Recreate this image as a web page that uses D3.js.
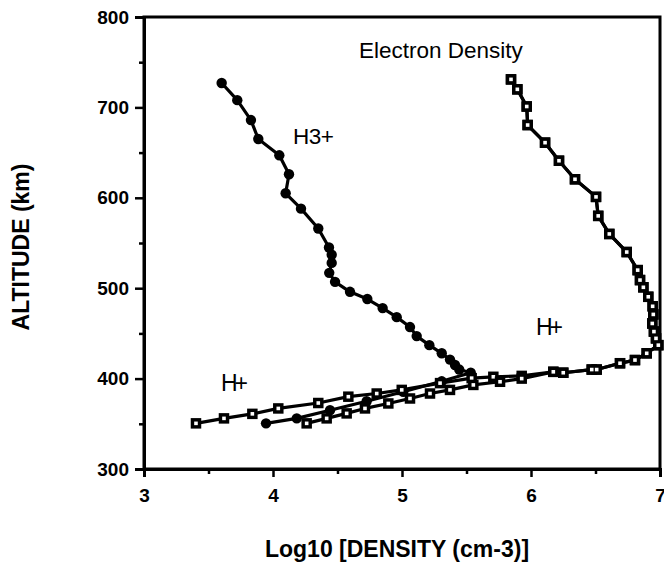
<!DOCTYPE html>
<html><head><meta charset="utf-8">
<script src="https://cdn.jsdelivr.net/npm/d3@7"></script>
<style>body{margin:0;background:#fff}svg{display:block}</style>
</head><body>
<script>
// Axis ticks
const xTicks = [3, 4, 5, 6, 7];
const xMinorTicks = [3.5, 4.5, 5.5, 6.5];
const yTicks = [300, 400, 500, 600, 700, 800];
const yMinorTicks = [350, 450, 550, 650, 750];

// H3+ (filled circles): log10 density, altitude (km)
const h3Density = [3.602, 3.723, 3.829, 3.886, 4.049, 4.124, 4.098, 4.217, 4.351, 4.434, 4.455, 4.455, 4.436, 4.481, 4.597, 4.731, 4.850, 4.959, 5.062, 5.114, 5.212, 5.308, 5.372, 5.411, 5.444, 5.533, 5.308, 5.010, 4.726, 4.442, 4.184, 3.946];
const h3Altitude = [727, 708, 686, 665, 647, 626, 605, 588, 566, 545, 537, 528, 517, 507, 496, 488, 478, 468, 457, 447, 437, 428, 421, 415, 410, 406.5, 397, 385.5, 375, 365, 356, 350.5];

// Upper part shared by H+ and electron density (squares)
const topDensity = [5.845, 5.894, 5.967, 5.974, 6.109, 6.217, 6.341, 6.504, 6.521, 6.607, 6.742, 6.827, 6.845, 6.871, 6.909, 6.943, 6.948, 6.940, 6.953, 6.969, 6.987, 6.897, 6.806, 6.690, 6.509, 6.471, 6.250, 6.173];
const topAltitude = [731, 720, 701, 680.5, 661, 641, 620.5, 601, 580, 560, 540, 520, 509, 501, 490.5, 480, 471, 461, 452, 444.5, 437, 428, 420.5, 417, 410, 410, 406.5, 407.5];

// H+ lower branch (squares)
const hPlusLowDensity = [5.928, 5.708, 5.540, 5.295, 4.998, 4.804, 4.584, 4.351, 4.041, 3.840, 3.620, 3.403];
const hPlusLowAltitude = [403, 402, 400.5, 395, 387.5, 383.5, 380, 373, 367, 361, 356, 350.5];

// Electron density lower branch (squares)
const elecLowDensity = [5.928, 5.760, 5.553, 5.372, 5.217, 5.062, 4.894, 4.713, 4.571, 4.416, 4.261];
const elecLowAltitude = [400, 396.5, 393, 387.5, 383.5, 378, 372.5, 367, 361.5, 356, 350.5];

const zip = (a, b) => a.map((v, i) => [v, b[i]]);
const h3Pts = zip(h3Density, h3Altitude);
const hPlusPts = zip(topDensity.concat(hPlusLowDensity), topAltitude.concat(hPlusLowAltitude));
const elecPts = zip(topDensity.concat(elecLowDensity), topAltitude.concat(elecLowAltitude));

const W = 664, H = 565;
const L = 144, R = 660, T = 17, B = 469;
const x = d3.scaleLinear().domain([3, 7]).range([L, R]);
const y = d3.scaleLinear().domain([300, 800]).range([B, T]);

const svg = d3.select("body").append("svg").attr("width", W).attr("height", H);
const font = "'Liberation Sans', Arial, Helvetica, sans-serif";

// Frame
svg.append("rect").attr("x", L).attr("y", T).attr("width", R - L).attr("height", B - T)
  .attr("fill", "none").attr("stroke", "#000").attr("stroke-width", 3);

// Axes
const xAxis = svg.append("g").attr("transform", `translate(0,${B})`)
  .call(d3.axisBottom(x).tickValues(xTicks).tickSize(8).tickPadding(12).tickFormat(d3.format("d")));
const xMinor = svg.append("g").attr("transform", `translate(0,${B})`)
  .call(d3.axisBottom(x).tickValues(xMinorTicks).tickSize(5).tickFormat(""));
const yAxis = svg.append("g").attr("transform", `translate(${L},0)`)
  .call(d3.axisLeft(y).tickValues(yTicks).tickSize(9).tickPadding(6).tickFormat(d3.format("d")));
const yMinor = svg.append("g").attr("transform", `translate(${L},0)`)
  .call(d3.axisLeft(y).tickValues(yMinorTicks).tickSize(5).tickFormat(""));
[xAxis, xMinor, yAxis, yMinor].forEach(g => {
  g.select(".domain").attr("stroke-width", 3);
  g.selectAll(".tick line").attr("stroke-width", 2.5);
  g.selectAll("text").attr("font-family", font).attr("font-size", 19)
    .attr("font-weight", "bold").attr("fill", "#000");
});

// Lines
const line = d3.line().x(d => x(d[0])).y(d => y(d[1]));
[h3Pts, hPlusPts, elecPts].forEach(pts => {
  svg.append("path").attr("d", line(pts)).attr("fill", "none")
    .attr("stroke", "#000").attr("stroke-width", 3.2).attr("stroke-linejoin", "round");
});

// Markers
svg.append("g").selectAll("circle").data(h3Pts).join("circle")
  .attr("cx", d => x(d[0])).attr("cy", d => y(d[1])).attr("r", 5.2).attr("fill", "#000");
const sq = 10.5;
[hPlusPts, elecPts].forEach(pts => {
  const g = svg.append("g");
  g.selectAll("rect.o").data(pts).join("rect").attr("class", "o")
    .attr("x", d => x(d[0]) - sq / 2).attr("y", d => y(d[1]) - sq / 2)
    .attr("width", sq).attr("height", sq).attr("fill", "#000");
  g.selectAll("rect.i").data(pts).join("rect").attr("class", "i")
    .attr("x", d => x(d[0]) - 1.8).attr("y", d => y(d[1]) - 1.8)
    .attr("width", 3.6).attr("height", 3.6).attr("fill", "#fff");
});

// Labels
const lab = (t, px, py, size, ls) => svg.append("text").attr("x", px).attr("y", py)
  .attr("font-family", font).attr("font-size", size).attr("letter-spacing", ls || 0)
  .attr("fill", "#000").text(t);
lab("Electron Density", 359, 58, 22.5);
lab("H3+", 293, 144, 22.5, -0.5);
lab("H+", 221, 391, 23, -3);
lab("H+", 536, 335, 23, -3);

svg.append("text").attr("x", 397).attr("y", 557).attr("text-anchor", "middle")
  .attr("font-family", font).attr("font-size", 23).attr("font-weight", "bold")
  .text("Log10 [DENSITY (cm-3)]");
svg.append("text").attr("transform", "translate(29,247) rotate(-90)").attr("text-anchor", "middle")
  .attr("font-family", font).attr("font-size", 23).attr("font-weight", "bold")
  .text("ALTITUDE (km)");
</script>
</body></html>
